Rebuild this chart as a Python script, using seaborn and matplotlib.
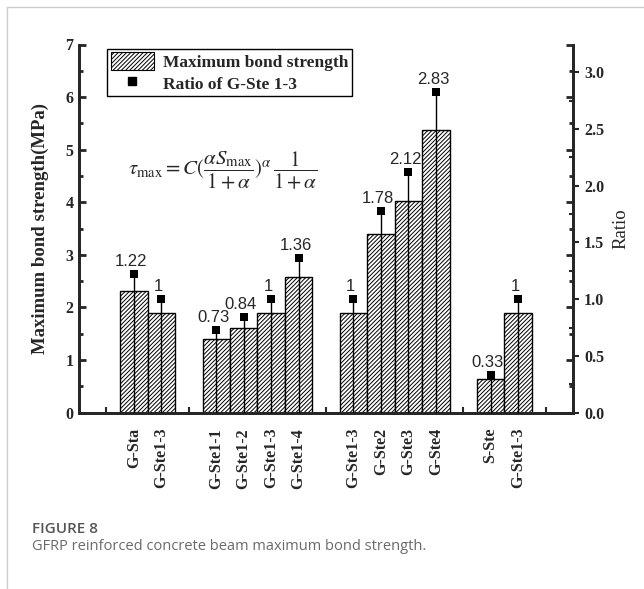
import matplotlib
matplotlib.use("Agg")
import matplotlib.pyplot as plt
from matplotlib.patches import Patch
from matplotlib.lines import Line2D
from matplotlib.ticker import MultipleLocator, FixedLocator, FormatStrFormatter
import seaborn as sns
import pandas as pd

# Specimen groups (one blank slot separates neighbouring groups)
groups = [
    ["G-Sta", "G-Ste1-3"],
    ["G-Ste1-1", "G-Ste1-2", "G-Ste1-3", "G-Ste1-4"],
    ["G-Ste1-3", "G-Ste2", "G-Ste3", "G-Ste4"],
    ["S-Ste", "G-Ste1-3"],
]
# Maximum bond strength (MPa) of each specimen, in group order
strength = [2.32, 1.90, 1.40, 1.61, 1.90, 2.58, 1.90, 3.39, 4.03, 5.38, 0.63, 1.90]
# Ratio to G-Ste1-3
ratio = [1.22, 1, 0.73, 0.84, 1, 1.36, 1, 1.78, 2.12, 2.83, 0.33, 1]

# Build slot positions: blank slot before, between and after the groups
labels, pos, gaps = [], [], [0]
slot = 1
for g in groups:
    for name in g:
        labels.append(name)
        pos.append(slot)
        slot += 1
    gaps.append(slot)
    slot += 1

df = pd.DataFrame({"pos": pos, "label": labels, "strength": strength, "ratio": ratio})

HATCH = "////////"

sns.set_style("ticks")
plt.rcParams["font.family"] = ["Liberation Serif", "DejaVu Serif"]
plt.rcParams["mathtext.fontset"] = "stix"
plt.rcParams["hatch.linewidth"] = 0.7

fig = plt.figure(figsize=(6.44, 5.89), dpi=100)
ax = fig.add_axes([79 / 644, 1 - 412.6 / 589, (573 - 79) / 644, (412.6 - 44.5) / 589])

sns.barplot(data=df, x="pos", y="strength", native_scale=True, width=1.0,
            color="white", saturation=1, edgecolor="black", linewidth=1.0,
            hatch=HATCH, errorbar=None, ax=ax)

ax.set_xlim(-1, slot)
ax.set_ylim(0, 7)

ax2 = ax.twinx()
ax2.set_ylim(0, 3.245)
ax2.vlines(df["pos"], 0, df["ratio"], color="black", linewidth=1.0, zorder=3)
sns.scatterplot(data=df, x="pos", y="ratio", marker="s", s=38, color="black",
                edgecolor="black", linewidth=0, ax=ax2, zorder=4, legend=False)
for x, r in zip(df["pos"], df["ratio"]):
    ax2.annotate(f"{r:g}", (x, r), xytext=(-2, 3.6), textcoords="offset points",
                 ha="center", va="bottom", fontsize=12, family="Liberation Sans")

# spines
for a in (ax, ax2):
    a.spines["top"].set_visible(False)
    for s in ("left", "right", "bottom"):
        a.spines[s].set_linewidth(2.0)

# left axis ticks (mirrored inward on the right spine)
ax.yaxis.set_major_locator(MultipleLocator(1))
ax.yaxis.set_minor_locator(MultipleLocator(0.5))
ax.tick_params(axis="y", which="major", direction="in", length=5, width=2,
               left=True, right=True, labelsize=11.5, pad=4)
ax.tick_params(axis="y", which="minor", direction="in", length=3, width=2,
               left=True, right=True)
for t in ax.get_yticklabels():
    t.set_fontweight("bold")

# x axis: category labels, small inward ticks at blank slots
ax.xaxis.set_major_locator(FixedLocator(pos))
ax.set_xticklabels(labels, rotation=90, fontweight="bold", fontsize=11.5)
ax.xaxis.set_minor_locator(FixedLocator(gaps))
ax.tick_params(axis="x", which="major", length=0, pad=11)
ax.tick_params(axis="x", which="minor", direction="in", length=4, width=1.5)
ax.set_xlabel("")
ax.set_ylabel("Maximum bond strength(MPa)", fontsize=13.5, fontweight="bold", labelpad=12)

# right axis
ax2.yaxis.set_major_locator(MultipleLocator(0.5))
ax2.yaxis.set_minor_locator(MultipleLocator(0.25))
ax2.yaxis.set_major_formatter(FormatStrFormatter("%.1f"))
ax2.tick_params(axis="y", which="major", direction="out", length=4, width=1.5,
                labelsize=11.5, pad=4)
ax2.tick_params(axis="y", which="minor", direction="in", length=3, width=1.5)
for t in ax2.get_yticklabels():
    t.set_fontweight("bold")
ax2.set_ylabel("Ratio", fontsize=13.5, labelpad=6)

# legend
handles = [
    Patch(facecolor="white", edgecolor="black", hatch=HATCH, linewidth=0.8),
    Line2D([], [], marker="s", color="black", linestyle="none", markersize=6),
]
leg = ax.legend(handles, ["Maximum bond strength", "Ratio of G-Ste 1-3"],
                loc="upper left", bbox_to_anchor=(0.057, 0.988), borderaxespad=0,
                frameon=True, fancybox=False, edgecolor="black", framealpha=1,
                prop={"family": "Liberation Serif", "weight": "bold", "size": 12.5},
                handlelength=2.5, handleheight=1.2, borderpad=0.2, labelspacing=0.15,
                handletextpad=0.5)
leg.get_frame().set_linewidth(1.0)

# bond strength model
ax.text(0.2915, 0.66,
        r"$\tau_{\max}=C(\dfrac{\alpha S_{\max}}{1+\alpha})^{\alpha}\,\dfrac{1}{1+\alpha}$",
        transform=ax.transAxes, ha="center", va="center", fontsize=15)

# caption
fig.text(32 / 644, 1 - 529 / 589, "FIGURE 8", fontsize=11, fontweight="semibold",
         family="Open Sans", color="#555555", va="center", ha="left")
fig.text(32 / 644, 1 - 546 / 589, "GFRP reinforced concrete beam maximum bond strength.",
         fontsize=10.5, family="Open Sans", color="#6a6a6a", va="center", ha="left")

# page frame lines
fig.add_artist(Line2D([7 / 644, 7 / 644], [0, 1 - 7 / 589], transform=fig.transFigure,
                      color="#cccccc", linewidth=1))
fig.add_artist(Line2D([7 / 644, 1], [1 - 7 / 589, 1 - 7 / 589], transform=fig.transFigure,
                      color="#cccccc", linewidth=1))

fig.savefig("out.png", dpi=100)
